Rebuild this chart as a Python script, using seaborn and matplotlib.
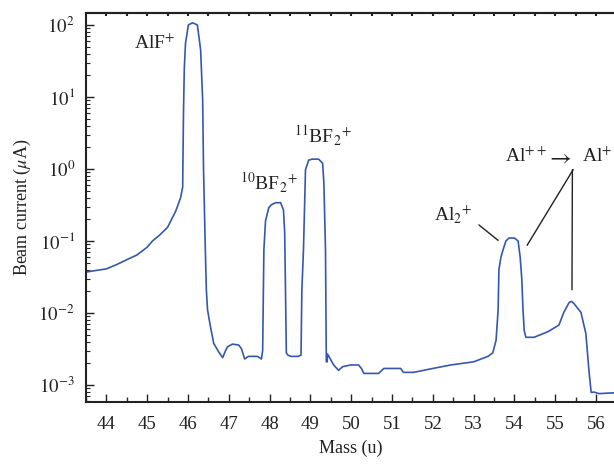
import numpy as np
import pandas as pd
import matplotlib
matplotlib.use("Agg")
import matplotlib.pyplot as plt
import seaborn as sns
from matplotlib.ticker import MultipleLocator, LogLocator, NullFormatter

# ---- data ----
mass = [43.50, 43.75, 44.00, 44.25, 44.50, 44.75, 45.00, 45.13, 45.30, 45.50,
        45.70, 45.82, 45.87, 45.89, 45.91, 45.94, 46.01, 46.11, 46.23, 46.31,
        46.36, 46.38, 46.42, 46.45, 46.48, 46.55, 46.63, 46.75, 46.85, 46.92,
        46.97, 47.09, 47.24, 47.31, 47.36, 47.39, 47.48, 47.70, 47.80, 47.83,
        47.86, 47.90, 47.98, 48.05, 48.15, 48.27, 48.34, 48.37, 48.39, 48.41,
        48.45, 48.52, 48.70, 48.77, 48.79, 48.83, 48.88, 48.96, 49.05, 49.20,
        49.30, 49.33, 49.37, 49.39, 49.41, 49.42, 49.57, 49.69, 49.79, 49.99,
        50.18, 50.25, 50.31, 50.50, 50.67, 50.80, 51.00, 51.21, 51.28, 51.53,
        52.00, 52.44, 53.00, 53.35, 53.47, 53.55, 53.60, 53.62, 53.67, 53.72,
        53.79, 53.87, 54.00, 54.09, 54.14, 54.18, 54.21, 54.24, 54.28, 54.48,
        54.82, 55.09, 55.21, 55.34, 55.40, 55.46, 55.63, 55.75, 55.83, 55.88,
        55.95, 56.07, 56.44]
current = [0.037, 0.039, 0.041, 0.047, 0.055, 0.064, 0.082, 0.10, 0.12, 0.155,
           0.26, 0.40, 0.56, 6.0, 25.0, 56.0, 100.0, 107.0, 100.0, 45.0,
           9.0, 1.07, 0.1, 0.021, 0.011, 0.0065, 0.0038, 0.0029, 0.0024, 0.0030,
           0.0034, 0.0037, 0.0036, 0.0032, 0.0026, 0.0023, 0.0025, 0.0025, 0.0023, 0.0030,
           0.075, 0.19, 0.29, 0.32, 0.34, 0.34, 0.27, 0.13, 0.02, 0.0028,
           0.0026, 0.0025, 0.0025, 0.0026, 0.02, 0.075, 0.98, 1.33, 1.37, 1.37,
           1.2, 0.64, 0.075, 0.0021, 0.0021, 0.0027, 0.0019, 0.0016, 0.0018, 0.0019,
           0.0019, 0.0017, 0.00145, 0.00145, 0.00145, 0.0017, 0.0017, 0.0017, 0.0015, 0.0015,
           0.0017, 0.0019, 0.0021, 0.0025, 0.0028, 0.0042, 0.011, 0.04, 0.06, 0.075,
           0.10, 0.11, 0.11, 0.10, 0.06, 0.03, 0.011, 0.0057, 0.0046, 0.0046,
           0.0055, 0.0068, 0.0102, 0.014, 0.0145, 0.0135, 0.0102, 0.0052, 0.0015, 0.00079,
           0.00080, 0.00076, 0.00078]

x_ticks = [44, 45, 46, 47, 48, 49, 50, 51, 52, 53, 54, 55, 56]
y_ticks = [1e-3, 1e-2, 1e-1, 1e0, 1e1, 1e2]
y_tick_labels = [r"$10^{-3}$", r"$10^{-2}$", r"$10^{-1}$", r"$10^{0}$", r"$10^{1}$", r"$10^{2}$"]

df = pd.DataFrame({"mass": mass, "current": current})

sns.set_theme(style="white")
plt.rcParams["font.family"] = ["Liberation Serif", "DejaVu Serif"]
plt.rcParams["mathtext.fontset"] = "stix"

fig = plt.figure(figsize=(6.14, 4.67), dpi=100)
ax = fig.add_axes([0.140, 0.139, 0.862, 0.833])

sns.lineplot(data=df, x="mass", y="current", ax=ax, color="#3657b0",
             linewidth=1.2, estimator=None, sort=False)

ax.set_yscale("log")
ax.set_xlim(43.5, 56.47)
ax.set_ylim(5.8e-4, 146)

ax.set_xticks(x_ticks)
ax.set_xticklabels([str(t) for t in x_ticks])
ax.xaxis.set_minor_locator(MultipleLocator(0.5))
ax.set_yticks(y_ticks)
ax.set_yticklabels(y_tick_labels)
ax.yaxis.set_minor_locator(LogLocator(base=10, subs=np.arange(2, 10)))
ax.yaxis.set_minor_formatter(NullFormatter())

ax.tick_params(axis="both", which="major", direction="in", length=6, width=1,
               labelsize=13.5, colors="#222222")
ax.tick_params(axis="x", which="major", pad=10)
ax.tick_params(axis="y", which="major", pad=8)
ax.tick_params(axis="x", which="minor", direction="in", length=3.5, width=1)
ax.tick_params(axis="y", which="minor", direction="in", length=3, width=0.8)
ax.tick_params(axis="x", which="both", top=False, bottom=True)
ax.tick_params(axis="y", which="both", left=True, right=False)

# short tick marks on the top spine
top = ax.secondary_xaxis("top")
top.set_xticks(np.arange(44, 56.5, 0.5))
top.tick_params(direction="in", length=2.5, width=1.5, labeltop=False, colors="#222222")
top.spines["top"].set_color("#222222")
top.spines["top"].set_linewidth(1.5)

for s in ["left", "bottom", "top"]:
    ax.spines[s].set_visible(True)
    ax.spines[s].set_color("#222222")
    ax.spines[s].set_linewidth(1.5)
ax.spines["right"].set_visible(False)

ax.set_xlabel("Mass (u)", fontsize=13, labelpad=5, color="#222222")
ax.set_ylabel(r"Beam current ($\mu$A)", fontsize=13, labelpad=4, color="#222222")

tk = dict(fontsize=14, color="#222222", ha="center", va="center")
ax.text(45.18, 56, r"AlF$^{+}$", **tk)
ax.text(47.98, 0.64, r"$^{10}$BF$_2$$^{+}$", **tk)
ax.text(49.30, 2.9, r"$^{11}$BF$_2$$^{+}$", **tk)
ax.text(52.49, 0.23, r"Al$_2$$^{+}$", **tk)
ax.text(54.28, 1.5, r"Al$^{++}$", **tk)
ax.text(55.10, 1.42, r"$\rightarrow$", fontsize=17, color="#222222", ha="center", va="center")
ax.text(56.02, 1.5, r"Al$^{+}$", **tk)

ax.plot([53.13, 53.60], [0.167, 0.102], color="#222222", lw=1.0)
ax.plot([55.44, 54.31], [0.98, 0.087], color="#222222", lw=1.0)
ax.plot([55.42, 55.41], [0.98, 0.021], color="#222222", lw=1.0)

fig.savefig("out.png", dpi=100)
